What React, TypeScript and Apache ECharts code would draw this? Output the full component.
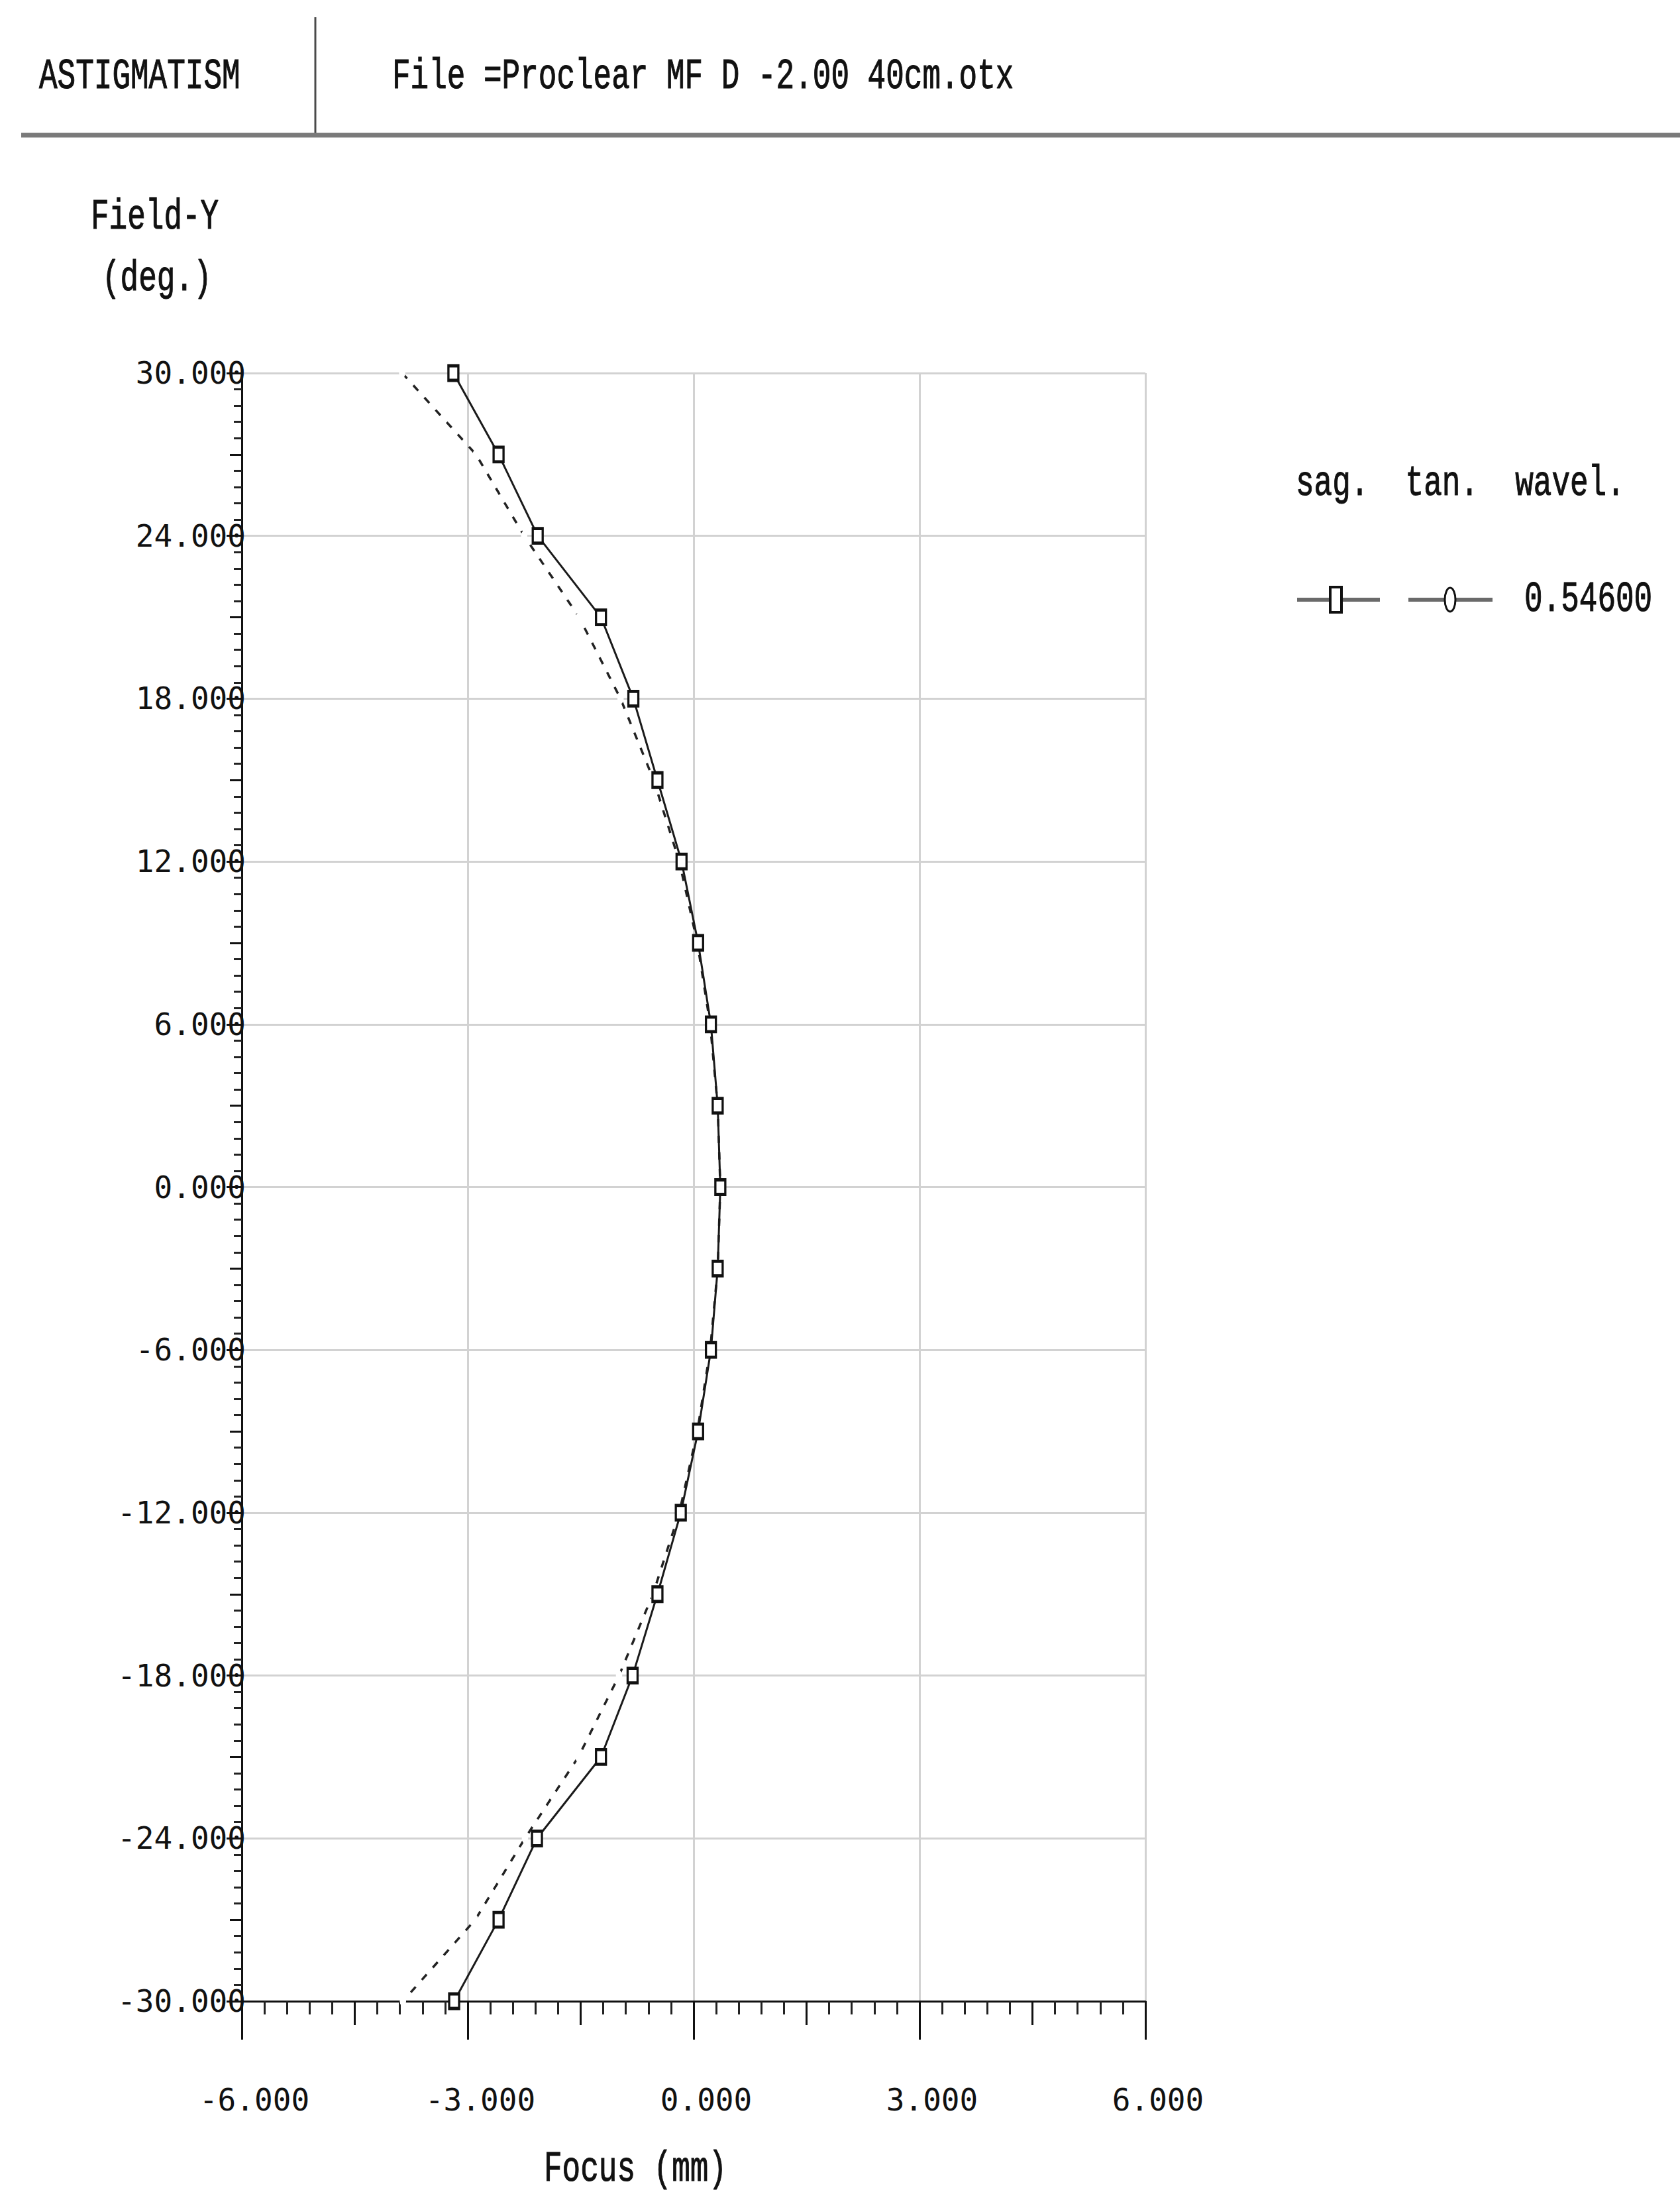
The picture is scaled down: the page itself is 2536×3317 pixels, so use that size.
import React, { useEffect, useRef } from "react";
import * as echarts from "echarts";

// ---- data ----
const fieldDeg = [30, 27, 24, 21, 18, 15, 12, 9, 6, 3, 0, -3, -6, -9, -12, -15, -18, -21, -24, -27, -30];
const sagFocus = [-3.19, -2.59, -2.07, -1.23, -0.8, -0.48, -0.16, 0.06, 0.23, 0.32, 0.355, 0.32, 0.23, 0.06, -0.17, -0.48, -0.81, -1.23, -2.08, -2.59, -3.18];
const tanFocus = [-3.87, -2.89, -2.25, -1.52, -0.97, -0.53, -0.19, 0.05, 0.22, 0.32, 0.355, 0.32, 0.22, 0.05, -0.19, -0.54, -0.99, -1.53, -2.24, -2.9, -3.86];
const focusRange = [-6, 6];
const focusStep = 3;
const fieldRange = [-30, 30];
const fieldStep = 6;
const wavelengths = ["0.54600"];
const legendHeader = "sag.  tan.  wavel.";
const headerLeft = "ASTIGMATISM";
const headerFile = "File =Proclear MF D -2.00 40cm.otx";
const yName = ["Field-Y", "(deg.)"];
const xName = "Focus (mm)";

const TXT = "#111";
const GRID = "#d2d2d2";
const SERIF_MONO = '"Liberation Mono", "DejaVu Sans Mono", monospace';
const LABEL_MONO = '"DejaVu Sans Mono", "Liberation Mono", monospace';

function txt(text: string, x: number, y: number) {
  return {
    type: "text",
    x,
    y,
    scaleY: 1.42,
    style: {
      text,
      fontFamily: SERIF_MONO,
      fontSize: 46,
      fill: TXT,
      stroke: TXT,
      lineWidth: 0.8,
      align: "left",
      verticalAlign: "middle",
    },
  };
}

export default function App() {
  const ref = useRef<HTMLDivElement>(null);
  useEffect(() => {
    const chart = echarts.init(ref.current!, null, { renderer: "svg" });
    const sagData = fieldDeg.map((f, i) => [sagFocus[i], f]);
    const tanData = fieldDeg.map((f, i) => [tanFocus[i], f]);
    const lblFmt = (v: number) => v.toFixed(3);
    const option: any = {
      animation: false,
      backgroundColor: "#fff",
      grid: { left: 365, top: 563, width: 1364, height: 2457, containLabel: false },
      xAxis: [
        {
          type: "value",
          min: focusRange[0],
          max: focusRange[1],
          interval: focusStep,
          position: "bottom",
          axisLine: { show: true, onZero: false, lineStyle: { color: "#111", width: 3 } },
          axisTick: { show: true, length: 58, lineStyle: { color: "#111", width: 3 } },
          minorTick: { show: true, splitNumber: 10, length: 20, lineStyle: { color: "#222", width: 3 } },
          splitLine: { show: true, lineStyle: { color: GRID, width: 3 } },
          axisLabel: {
            formatter: lblFmt,
            fontFamily: LABEL_MONO,
            fontSize: 46,
            color: TXT,
            margin: 126,
            padding: [0, 0, 0, 38],
          },
        },
        {
          type: "value",
          min: focusRange[0],
          max: focusRange[1],
          interval: focusStep / 2,
          position: "bottom",
          axisLine: { show: false, onZero: false },
          axisTick: { show: true, length: 36, lineStyle: { color: "#111", width: 3 } },
          splitLine: { show: false },
          axisLabel: { show: false },
        },
      ],
      yAxis: [
        {
          type: "value",
          min: fieldRange[0],
          max: fieldRange[1],
          interval: fieldStep,
          position: "left",
          axisLine: { show: true, onZero: false, lineStyle: { color: "#111", width: 3 } },
          axisTick: { show: true, length: 23, lineStyle: { color: "#111", width: 3 } },
          minorTick: { show: true, splitNumber: 10, length: 12, lineStyle: { color: "#222", width: 3 } },
          splitLine: { show: true, lineStyle: { color: GRID, width: 3 } },
          axisLabel: {
            formatter: lblFmt,
            fontFamily: LABEL_MONO,
            fontSize: 46,
            color: TXT,
            margin: -6,
          },
        },
        {
          type: "value",
          min: fieldRange[0],
          max: fieldRange[1],
          interval: fieldStep / 2,
          position: "left",
          axisLine: { show: false, onZero: false },
          axisTick: { show: true, length: 18, lineStyle: { color: "#111", width: 3 } },
          splitLine: { show: false },
          axisLabel: { show: false },
        },
      ],
      series: [
        {
          name: "tan",
          type: "line",
          xAxisIndex: 0,
          yAxisIndex: 0,
          data: tanData,
          symbol: "emptyCircle",
          symbolSize: [8, 13],
          itemStyle: { color: "#fff", borderColor: "#222", borderWidth: 3 },
          lineStyle: { color: "#222", width: 3.5, type: [11, 14] },
          z: 2,
        },
        {
          name: "sag",
          type: "line",
          xAxisIndex: 0,
          yAxisIndex: 0,
          data: sagData,
          symbol: "rect",
          symbolSize: [15, 22],
          itemStyle: { color: "#fff", borderColor: "#111", borderWidth: 4 },
          lineStyle: { color: "#1a1a1a", width: 3 },
          z: 3,
        },
      ],
      graphic: [
        txt(headerLeft, 59, 116),
        txt(headerFile, 592, 116),
        {
          type: "line",
          shape: { x1: 476, y1: 26, x2: 476, y2: 204 },
          style: { stroke: "#4a4a4a", lineWidth: 3 },
        },
        {
          type: "line",
          shape: { x1: 32, y1: 204, x2: 2536, y2: 204 },
          style: { stroke: "#7a7a7a", lineWidth: 7 },
        },
        txt(yName[0], 137, 328),
        txt(yName[1], 154, 421),
        txt(xName, 821, 3274),
        txt(legendHeader, 1956, 730),
        {
          type: "line",
          shape: { x1: 1958, y1: 905, x2: 2083, y2: 905 },
          style: { stroke: "#6a6a6a", lineWidth: 6 },
        },
        {
          type: "rect",
          shape: { x: 2008, y: 886, width: 17, height: 38 },
          style: { fill: "#fff", stroke: "#111", lineWidth: 4 },
        },
        {
          type: "line",
          shape: { x1: 2126, y1: 905, x2: 2253, y2: 905 },
          style: { stroke: "#6a6a6a", lineWidth: 6 },
        },
        {
          type: "ellipse",
          shape: { cx: 2189, cy: 905, rx: 8, ry: 18 },
          style: { fill: "#fff", stroke: "#111", lineWidth: 3 },
        },
        txt(wavelengths[0], 2301, 905),
      ],
    };
    chart.setOption(option);
    return () => chart.dispose();
  }, []);
  return (
    <div
      ref={ref}
      style={{ position: "absolute", left: 0, top: 0, width: 2536, height: 3317, background: "#fff" }}
    />
  );
}
